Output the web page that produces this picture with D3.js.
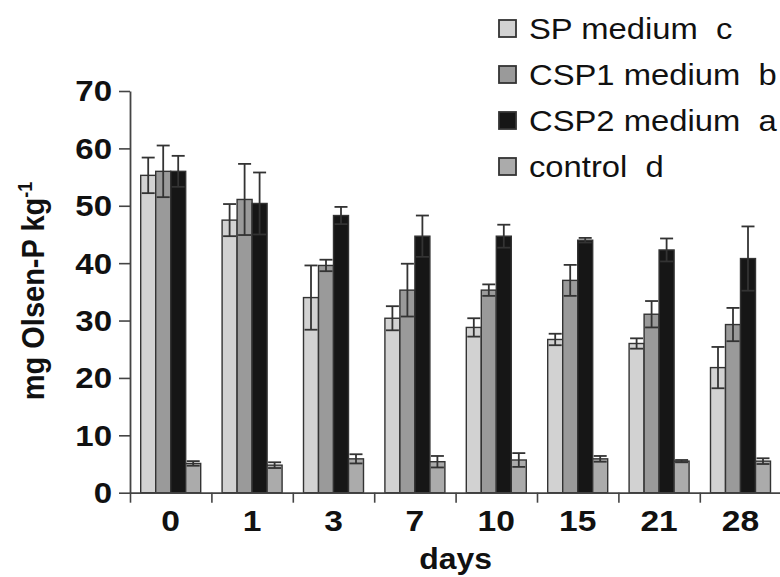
<!DOCTYPE html>
<html>
<head>
<meta charset="utf-8">
<script src="https://cdn.jsdelivr.net/npm/d3@7"></script>
<style>
  html, body { margin: 0; padding: 0; background: #fff; }
  svg { display: block; }
  text { font-family: "Liberation Sans", Arial, Helvetica, sans-serif; fill: #111; }
</style>
</head>
<body>
<svg id="chart" width="780" height="577"></svg>
<script>
// ---------- data ----------
const days = ["0", "1", "3", "7", "10", "15", "21", "28"];
const seriesNames = ["SP medium  c", "CSP1 medium  b", "CSP2 medium  a", "control  d"];
const seriesKeys = ["SP", "CSP1", "CSP2", "control"];
const SP       = [55.3, 47.5, 34.0, 30.4, 28.8, 26.7, 26.0, 21.8];
const SP_err   = [3.1, 2.8, 5.6, 2.1, 1.6, 1.0, 0.9, 3.6];
const CSP1     = [56.0, 51.1, 39.6, 35.3, 35.3, 37.0, 31.1, 29.3];
const CSP1_err = [4.5, 6.2, 1.0, 4.6, 1.0, 2.7, 2.3, 2.9];
const CSP2     = [56.0, 50.4, 48.3, 44.7, 44.7, 44.0, 42.3, 40.8];
const CSP2_err = [2.7, 5.4, 1.5, 3.6, 2.0, 0.4, 2.0, 5.6];
const control     = [5.1, 4.8, 5.9, 5.4, 5.7, 5.9, 5.5, 5.5];
const control_err = [0.4, 0.5, 0.8, 1.0, 1.2, 0.5, 0.2, 0.5];
const yTicks = [0, 10, 20, 30, 40, 50, 60, 70];
const fills = ["#d2d2d2", "#9a9a9a", "#161616", "#ababab"];

const values = [SP, CSP1, CSP2, control];
const errors = [SP_err, CSP1_err, CSP2_err, control_err];
const rows = [];
days.forEach((d, i) => {
  seriesKeys.forEach((k, j) => {
    rows.push({ day: d, key: k, si: j, v: values[j][i], e: errors[j][i] });
  });
});

// ---------- layout ----------
const svg = d3.select("#chart");
const x0Left = 130, bandW = 81.4;
const x = d3.scaleBand().domain(days).range([x0Left, x0Left + bandW * days.length]).padding(0);
const xi = d3.scaleBand().domain(seriesKeys).range([10.7, bandW - 10.7]).padding(0);
const xEdge = d3.scaleLinear().domain([0, days.length]).range([x0Left, x0Left + bandW * days.length]);
const y = d3.scaleLinear().domain([0, 70]).range([492.7, 91]);

function stretch(sel, k) {
  sel.each(function () {
    const t = d3.select(this);
    const tx = +t.attr("x") || 0;
    t.attr("transform", `translate(${tx * (1 - k)},0) scale(${k},1)`);
  });
}

// ---------- bars ----------
const g = svg.append("g");
g.selectAll("rect.bar").data(rows).enter().append("rect")
  .attr("class", "bar")
  .attr("x", d => x(d.day) + xi(d.key))
  .attr("width", xi.bandwidth())
  .attr("y", d => y(d.v))
  .attr("height", d => y(0) - y(d.v))
  .attr("fill", d => fills[d.si])
  .attr("stroke", "#333")
  .attr("stroke-width", 1.4);

// ---------- error bars ----------
const capW = 13;
const eb = g.selectAll("g.err").data(rows).enter().append("g").attr("class", "err")
  .attr("stroke", "#333").attr("stroke-width", 1.8);
eb.append("line")
  .attr("x1", d => x(d.day) + xi(d.key) + xi.bandwidth() / 2)
  .attr("x2", d => x(d.day) + xi(d.key) + xi.bandwidth() / 2)
  .attr("y1", d => y(d.v - d.e))
  .attr("y2", d => y(d.v + d.e));
eb.append("line")
  .attr("x1", d => x(d.day) + xi(d.key) + xi.bandwidth() / 2 - capW / 2)
  .attr("x2", d => x(d.day) + xi(d.key) + xi.bandwidth() / 2 + capW / 2)
  .attr("y1", d => y(d.v + d.e))
  .attr("y2", d => y(d.v + d.e));
eb.append("line")
  .attr("x1", d => x(d.day) + xi(d.key) + xi.bandwidth() / 2 - capW / 2)
  .attr("x2", d => x(d.day) + xi(d.key) + xi.bandwidth() / 2 + capW / 2)
  .attr("y1", d => y(d.v - d.e))
  .attr("y2", d => y(d.v - d.e));

// ---------- axes ----------
const yAxis = svg.append("g").attr("transform", `translate(${x0Left},0)`)
  .call(d3.axisLeft(y).tickValues(yTicks).tickSize(11).tickSizeOuter(0).tickPadding(7));
yAxis.select(".domain").attr("stroke", "#444").attr("stroke-width", 1.8);
yAxis.selectAll(".tick line").attr("stroke", "#444").attr("stroke-width", 1.6);
yAxis.selectAll(".tick text")
  .attr("font-size", 30).attr("font-weight", "bold").attr("fill", "#111")
  .attr("font-family", "'Liberation Sans', Arial, sans-serif")
  .attr("dy", "0.33em")
  .call(stretch, 1.1);

const xEdgeAxis = svg.append("g").attr("transform", `translate(0,${y(0)})`)
  .call(d3.axisBottom(xEdge).tickValues(d3.range(days.length + 1)).tickSize(10).tickSizeOuter(0).tickFormat(""));
xEdgeAxis.select(".domain").attr("stroke", "#444").attr("stroke-width", 1.8);
xEdgeAxis.selectAll(".tick line").attr("stroke", "#444").attr("stroke-width", 1.6);

const xAxis = svg.append("g").attr("transform", `translate(0,${y(0)})`)
  .call(d3.axisBottom(x).tickSize(0).tickPadding(17));
xAxis.select(".domain").remove();
xAxis.selectAll(".tick text")
  .attr("font-size", 30).attr("font-weight", "bold").attr("fill", "#111")
  .attr("font-family", "'Liberation Sans', Arial, sans-serif")
  .call(stretch, 1.12);

// axis titles
svg.append("text")
  .attr("x", (x.range()[0] + x.range()[1]) / 2 / 1.1)
  .attr("y", 569)
  .attr("text-anchor", "middle")
  .attr("font-size", 29).attr("font-weight", "bold")
  .attr("transform", "scale(1.1,1)")
  .text("days");

const yl = svg.append("g").attr("transform", "translate(44,291) scale(1.1,1) rotate(-90)")
  .append("text").attr("text-anchor", "middle")
  .attr("font-size", 29).attr("font-weight", "bold");
yl.append("tspan").text("mg Olsen-P kg");
yl.append("tspan").attr("dy", -11).attr("font-size", 18).text("-1");

// ---------- legend ----------
const legY = d3.scaleLinear().domain([0, 3]).range([28.5, 166.5]);
const leg = svg.append("g").selectAll("g").data(seriesNames).enter().append("g")
  .attr("transform", (d, i) => `translate(499,${legY(i)})`);
leg.append("rect")
  .attr("x", 0).attr("y", -8.5).attr("width", 17).attr("height", 17)
  .attr("fill", (d, i) => fills[i]).attr("stroke", "#333").attr("stroke-width", 1.8);
leg.append("text")
  .attr("x", 30).attr("y", 10.5)
  .attr("font-size", 29)
  .style("white-space", "pre")
  .text(d => d)
  .call(stretch, 1.13);
</script>
</body>
</html>
